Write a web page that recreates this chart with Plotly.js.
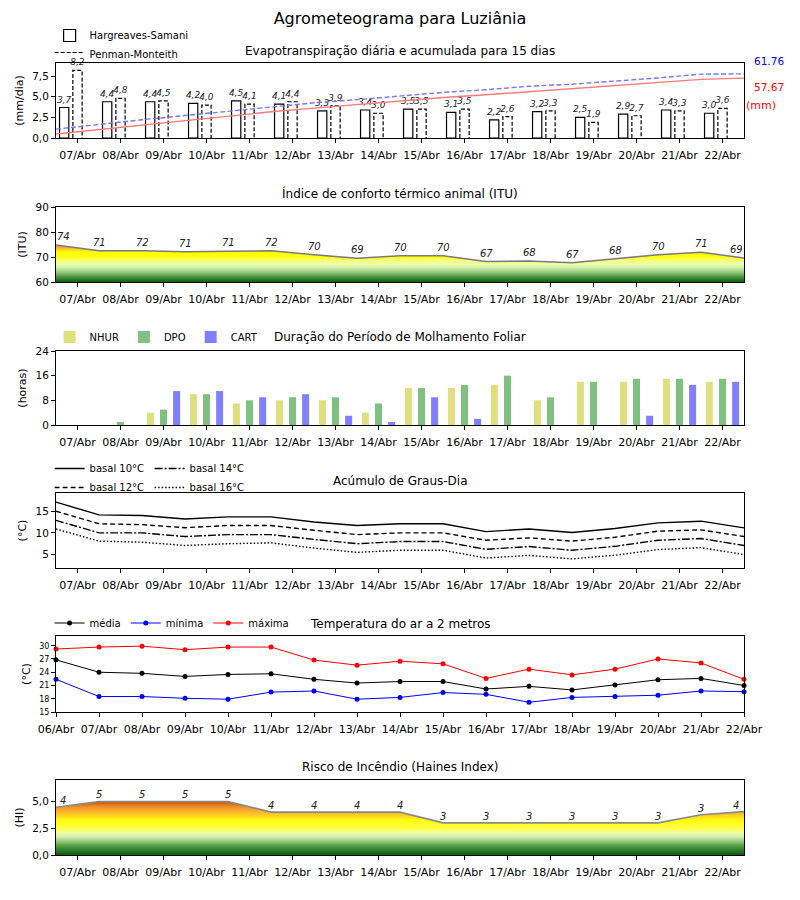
<!DOCTYPE html>
<html><head><meta charset="utf-8">
<script src="https://cdn.plot.ly/plotly-3.0.1.min.js"></script>
<style>body{margin:0;background:#fff}#chart{width:800px;height:900px}</style>
</head><body><div id="chart"></div><script>
// ---------- data ----------
const days16 = ['07/Abr','08/Abr','09/Abr','10/Abr','11/Abr','12/Abr','13/Abr','14/Abr','15/Abr','16/Abr','17/Abr','18/Abr','19/Abr','20/Abr','21/Abr','22/Abr'];
const days17 = ['06/Abr','07/Abr','08/Abr','09/Abr','10/Abr','11/Abr','12/Abr','13/Abr','14/Abr','15/Abr','16/Abr','17/Abr','18/Abr','19/Abr','20/Abr','21/Abr','22/Abr'];

const etHS = [3.7,4.4,4.4,4.2,4.5,4.1,3.3,3.4,3.5,3.1,2.2,3.2,2.5,2.9,3.4,3.0];
const etPM = [8.2,4.8,4.5,4.0,4.1,4.4,3.9,3.0,3.5,3.5,2.6,3.3,1.9,2.7,3.3,3.6];
const hsAcum = [3.9,8.2,12.5,16.7,21.0,25.2,28.8,32.2,35.7,39.0,41.6,44.6,47.3,50.2,53.4,56.4,57.67];
const pmAcum = [8.5,13.2,17.6,21.6,25.7,30.0,33.9,36.9,40.4,43.9,46.5,49.8,51.8,54.5,57.8,61.5,61.76];
const totalHS = '57.67', totalPM = '61.76';

const ituVals = [74.8,72.5,72.5,72.1,72.3,72.5,70.9,69.5,70.5,70.5,68.2,68.4,67.7,69.2,70.9,71.9,69.6];
const ituLabels = ['74','71','72','71','71','72','70','69','70','70','67','68','67','68','70','71','69'];

const nhur = [0,0,4,10,7,8,8,4,12,12,13,8,14,14,15,14];
const dpo  = [0,1,5,10,8,9,9,7,12,13,16,9,14,15,15,15];
const cart = [0,0,11,11,9,10,3,1,9,2,0,0,0,3,13,14];

const gd10 = [17.1,14.15,14.0,13.2,13.7,13.7,12.5,11.7,12.1,12.1,10.3,10.9,10.1,11.0,12.3,12.7,11.15];
const gd12 = [15.0,12.1,11.9,11.2,11.7,11.7,10.6,9.6,10.0,10.0,8.3,8.85,8.1,9.0,10.4,10.7,9.15];
const gd14 = [12.9,10.0,10.0,9.15,9.6,9.6,8.5,7.5,8.0,8.0,6.2,6.85,6.0,6.9,8.3,8.7,7.1];
const gd16 = [10.9,8.1,7.85,7.1,7.5,7.7,6.5,5.5,6.0,6.0,4.2,4.8,4.0,4.85,6.15,6.6,5.0];

const tMed = [26.8,24.0,23.75,23.05,23.5,23.65,22.4,21.55,21.9,21.9,20.2,20.8,20.0,21.1,22.3,22.6,21.0];
const tMin = [22.4,18.5,18.5,18.1,17.9,19.5,19.75,17.9,18.3,19.4,19.0,17.2,18.3,18.5,18.8,19.75,19.6];
const tMax = [29.25,29.7,29.9,29.1,29.7,29.7,26.75,25.6,26.5,25.9,22.6,24.7,23.4,24.7,27.0,26.1,22.4];

const haines = [4.45,5.0,5.0,5.0,5.0,4.0,4.0,4.0,4.0,3.0,3.0,3.0,3.0,3.0,3.0,3.75,4.05];
const hainesLabels = ['4','5','5','5','5','4','4','4','4','3','3','3','3','3','3','3','4'];

// ---------- helpers ----------
const F = 'DejaVu Sans, sans-serif';
const idx16 = days16.map((d,i)=>i);
const edges = ituVals.map((v,k)=>k-0.5);
const tIdx = days17.map((d,i)=>i);
const fmt = v => v.toFixed(1).replace('.',',');
const py = p => 1 - p/900;

const XD = [0.07, 0.93];
function xAx(anchor, opts){
  return Object.assign({domain:XD, anchor:anchor, range:[-0.5,15.5], tickmode:'array', tickvals:idx16, ticktext:days16,
    showline:true, mirror:true, linecolor:'black', linewidth:1, ticks:'outside', ticklen:4, tickcolor:'black',
    showgrid:false, zeroline:false, tickfont:{size:11,color:'black',family:F}, ticklabelstandoff:3, fixedrange:true}, opts||{});
}
function yAx(anchor, top, bot, opts){
  return Object.assign({domain:[py(bot),py(top)], anchor:anchor, showline:true, mirror:true, linecolor:'black', linewidth:1,
    ticks:'outside', ticklen:4, tickcolor:'black', showgrid:false, zeroline:false, tickmode:'array',
    tickfont:{size:10.5,color:'black',family:F}, fixedrange:true}, opts||{});
}
function ytitle(t){ return {text:t, font:{size:11,color:'black',family:F}, standoff:6}; }

// PM dashed outline from data
const pmW = 0.216, pmOff = -0.108;
const pmX = [], pmY = [];
etPM.forEach((v,i)=>{ const x0=i+pmOff, x1=i+pmOff+pmW; pmX.push(x0,x0,x1,x1,null); pmY.push(0,v,v,0,null); });

const ituScale = [[0,'#0a5a0a'],[0.05,'#2a7a2a'],[0.12,'#5aa04a'],[0.2,'#98cc80'],[0.28,'#cdeea8'],[0.36,'#ecffa8'],[0.44,'#f8ff70'],[0.5,'#ffff10'],[0.6,'#ffff00'],[0.68,'#f8b830'],[0.75,'#f09028'],[1,'#e02010']];
const hiScale = [[0,'#0a5a0a'],[0.08,'#2a7a2a'],[0.18,'#5aa04a'],[0.26,'#98cc80'],[0.34,'#d4f0b0'],[0.42,'#f0ffa0'],[0.5,'#ffff40'],[0.64,'#ffff10'],[0.74,'#ffd020'],[0.82,'#f8b030'],[0.9,'#f09028'],[1,'#c8500e']];

const txtFont = {size:10, color:'#222', family:F, style:'italic'};
const barTxtFont = {size:9, color:'#222', family:F, style:'italic'};

const traces = [
  // Panel 1
  {type:'bar', x:idx16, y:etHS, width:0.216, offset:-0.418, xaxis:'x', yaxis:'y', name:'Hargreaves-Samani',
   marker:{color:'white', line:{color:'black', width:1.2}}, text:etHS.map(fmt), textposition:'outside', constraintext:'none',
   cliponaxis:false, textfont:barTxtFont, legend:'legend', hoverinfo:'y'},
  {type:'bar', x:idx16, y:etPM, width:pmW, offset:pmOff, xaxis:'x', yaxis:'y', showlegend:false,
   marker:{color:'rgba(255,255,255,1)', line:{width:0}}, text:etPM.map(fmt), textposition:'outside', constraintext:'none',
   cliponaxis:false, textfont:barTxtFont, hoverinfo:'y'},
  {type:'scatter', mode:'lines', x:pmX, y:pmY, xaxis:'x', yaxis:'y', name:'Penman-Monteith', fill:'toself', fillcolor:'rgba(255,255,255,0)',
   line:{color:'black', width:1.2, dash:'4px,2px'}, legend:'legend', hoverinfo:'skip'},
  {type:'scatter', mode:'lines', x:edges, y:hsAcum, xaxis:'x', yaxis:'y2', showlegend:false, line:{color:'#ff7b7b', width:1.4}},
  {type:'scatter', mode:'lines', x:edges, y:pmAcum, xaxis:'x', yaxis:'y2', showlegend:false, line:{color:'#7777ff', width:1.4, dash:'5px,2.5px'}},
  // Panel 2 ITU
  {type:'scatter', mode:'lines', x:edges, y:ituVals, xaxis:'x2', yaxis:'y3', showlegend:false, fill:'tozeroy',
   fillgradient:{type:'vertical', start:60, stop:80, colorscale:ituScale}, line:{color:'#7a7a7a', width:1.5}},
  // Panel 3 molhamento
  {type:'bar', x:idx16, y:nhur, width:0.163, offset:-0.305-0.0815, xaxis:'x3', yaxis:'y4', name:'NHUR', marker:{color:'#dfdf80'}, legend:'legend2'},
  {type:'bar', x:idx16, y:dpo,  width:0.163, offset:-0.0815, xaxis:'x3', yaxis:'y4', name:'DPO', marker:{color:'#80c080'}, legend:'legend2'},
  {type:'bar', x:idx16, y:cart, width:0.163, offset:0.305-0.0815, xaxis:'x3', yaxis:'y4', name:'CART', marker:{color:'#8080ff'}, legend:'legend2'},
  // Panel 4 graus-dia
  {type:'scatter', mode:'lines', x:edges, y:gd10, xaxis:'x4', yaxis:'y5', name:'basal 10°C', line:{color:'black', width:1.4}, legend:'legend3'},
  {type:'scatter', mode:'lines', x:edges, y:gd12, xaxis:'x4', yaxis:'y5', name:'basal 12°C', line:{color:'black', width:1.4, dash:'5px,3px'}, legend:'legend3'},
  {type:'scatter', mode:'lines', x:edges, y:gd14, xaxis:'x4', yaxis:'y5', name:'basal 14°C', line:{color:'black', width:1.4, dash:'8px,2px,2px,2px'}, legend:'legend4'},
  {type:'scatter', mode:'lines', x:edges, y:gd16, xaxis:'x4', yaxis:'y5', name:'basal 16°C', line:{color:'black', width:1.4, dash:'1.5px,2px'}, legend:'legend4'},
  // Panel 5 temperature
  {type:'scatter', mode:'lines+markers', x:tIdx, y:tMed, xaxis:'x5', yaxis:'y6', name:'média', line:{color:'black', width:1}, marker:{color:'black', size:5}, legend:'legend5', cliponaxis:false},
  {type:'scatter', mode:'lines+markers', x:tIdx, y:tMin, xaxis:'x5', yaxis:'y6', name:'mínima', line:{color:'blue', width:1}, marker:{color:'blue', size:5}, legend:'legend5', cliponaxis:false},
  {type:'scatter', mode:'lines+markers', x:tIdx, y:tMax, xaxis:'x5', yaxis:'y6', name:'máxima', line:{color:'red', width:1}, marker:{color:'red', size:5}, legend:'legend5', cliponaxis:false},
  // Panel 6 Haines
  {type:'scatter', mode:'lines', x:edges, y:haines, xaxis:'x6', yaxis:'y7', showlegend:false, fill:'tozeroy',
   fillgradient:{type:'vertical', start:0, stop:5, colorscale:hiScale}, line:{color:'#8a8a8a', width:1.6}}
];

const annotations = [];
function sub(t, p){ annotations.push({text:t, xref:'paper', yref:'paper', x:0.5, y:py(p), xanchor:'center', yanchor:'middle', showarrow:false, font:{size:12,color:'black',family:F}}); }
sub('Evapotranspiração diária e acumulada para 15 dias', 51);
sub('Índice de conforto térmico animal (ITU)', 194);
sub('Duração do Período de Molhamento Foliar', 337);
sub('Acúmulo de Graus-Dia', 481);
sub('Temperatura do ar a 2 metros', 624);
sub('Risco de Incêndio (Haines Index)', 767);

annotations.push({text:totalPM, xref:'paper', yref:'paper', x:769/800, y:py(61), xanchor:'center', yanchor:'middle', showarrow:false, font:{size:10.5,color:'blue',family:F}});
annotations.push({text:totalHS, xref:'paper', yref:'paper', x:769/800, y:py(87), xanchor:'center', yanchor:'middle', showarrow:false, font:{size:10.5,color:'red',family:F}});
annotations.push({text:'(mm)', xref:'paper', yref:'paper', x:761/800, y:py(105), xanchor:'center', yanchor:'middle', showarrow:false, font:{size:11,color:'red',family:F}});

const last = ituVals.length-1;
ituVals.forEach((v,k)=>{
  annotations.push({text:ituLabels[k], xref:'x2', yref:'y3', x:edges[k], y:v, xanchor:'center', yanchor:'bottom', yshift:1,
    xshift: k===0?7:(k===last?-8:0), showarrow:false, font:txtFont});
});
haines.forEach((v,k)=>{
  annotations.push({text:hainesLabels[k], xref:'x6', yref:'y7', x:edges[k], y:v, xanchor:'center', yanchor:'bottom', yshift:-1,
    xshift: k===0?7:(k===last?-8:0), showarrow:false, font:txtFont});
});

const legBase = {bgcolor:'rgba(0,0,0,0)', font:{size:10,color:'black',family:F}, xanchor:'left'};
const layout = {
  width:800, height:900, margin:{l:0,r:0,t:0,b:0}, paper_bgcolor:'white', plot_bgcolor:'white',
  font:{family:F, color:'black'}, separators:',.', hovermode:false,
  title:{text:'Agrometeograma para Luziânia', x:0.5, xanchor:'center', y:py(18), yanchor:'middle', yref:'container', font:{size:16,color:'black',family:F}},
  xaxis: xAx('y'),
  yaxis: yAx('x', 63, 138, {range:[0,9.1], tickvals:[0,2.5,5,7.5], ticktext:['0,0','2,5','5,0','7,5'], title:ytitle('(mm/dia)')}),
  yaxis2:{overlaying:'y', anchor:'x', range:[0,72.2], visible:false, fixedrange:true},
  xaxis2: xAx('y3'),
  yaxis3: yAx('x2', 207, 282, {range:[60,90], tickvals:[60,70,80,90], title:ytitle('(ITU)')}),
  xaxis3: xAx('y4'),
  yaxis4: yAx('x3', 351, 425, {range:[0,24], tickvals:[0,8,16,24], title:ytitle('(horas)')}),
  xaxis4: xAx('y5'),
  yaxis5: yAx('x4', 493, 568, {range:[1.9,19.2], tickvals:[5,10,15], title:ytitle('(°C)')}),
  xaxis5: xAx('y6', {range:[0,16], tickvals:tIdx, ticktext:days17}),
  yaxis6: yAx('x5', 636, 712, {range:[15,32.2], tickvals:[15,18,21,24,27,30], tickfont:{size:8,color:'black',family:F}, title:ytitle('(°C)')}),
  xaxis6: xAx('y7'),
  yaxis7: yAx('x6', 780, 855, {range:[0,7], tickvals:[0,2.5,5], ticktext:['0,0','2,5','5,0'], title:ytitle('(HI)')}),
  legend: Object.assign({}, legBase, {x:0.062, y:py(21), yanchor:'top', tracegroupgap:0}),
  legend2: Object.assign({}, legBase, {orientation:'h', x:0.062, y:py(337), yanchor:'middle'}),
  legend3: Object.assign({}, legBase, {x:0.062, y:py(454), yanchor:'top'}),
  legend4: Object.assign({}, legBase, {x:0.187, y:py(454), yanchor:'top'}),
  legend5: Object.assign({}, legBase, {orientation:'h', x:0.062, y:py(623), yanchor:'middle'}),
  annotations: annotations
};

Plotly.newPlot('chart', traces, layout, {displayModeBar:false, staticPlot:true});
</script></body></html>
